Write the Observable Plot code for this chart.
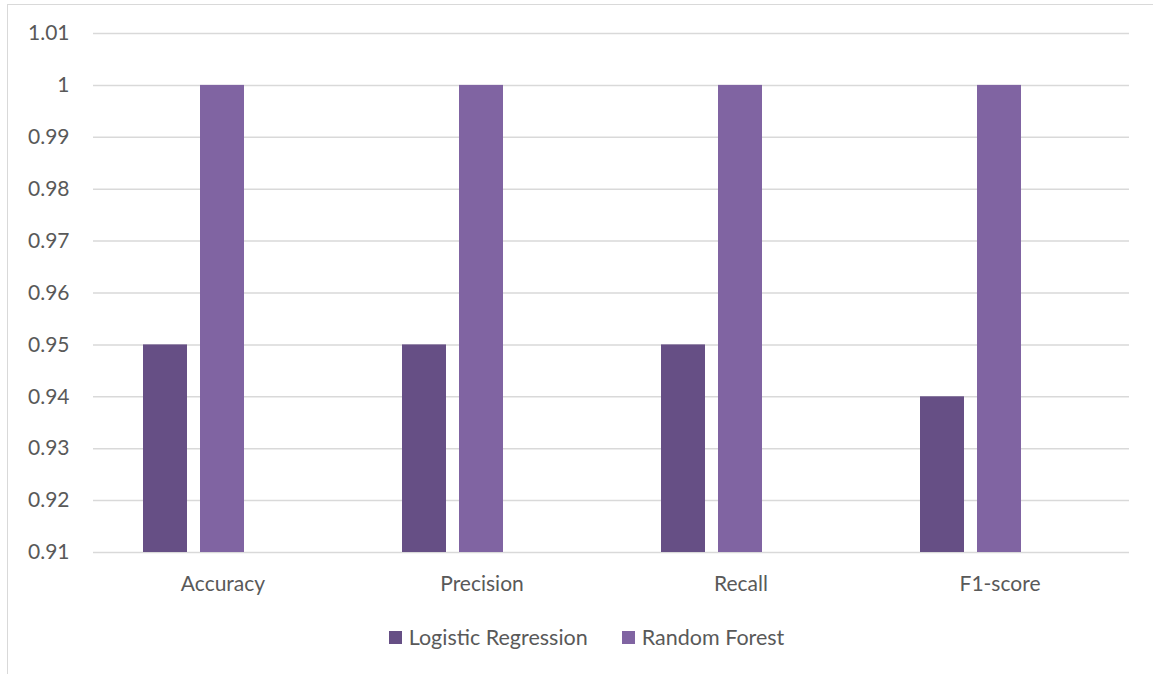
<!DOCTYPE html>
<html><head><meta charset="utf-8">
<script src="https://cdn.jsdelivr.net/npm/d3@7"></script>
<script src="https://cdn.jsdelivr.net/npm/@observablehq/plot@0.6"></script>
<style>
html,body{margin:0;padding:0;background:#fff;width:1153px;height:674px;overflow:hidden;font-family:Lato,"Open Sans",sans-serif;}
#frame{position:absolute;left:7px;top:4px;width:1300px;height:800px;border:1px solid #d9d9d9;box-sizing:border-box;}
#chart{position:absolute;left:0;top:0;}
#legend{position:absolute;left:0;width:1173px;top:624px;display:flex;justify-content:center;gap:34px;font-size:21.5px;color:#595959;line-height:26px;}
#legend .item{display:flex;align-items:center;gap:7px;}
#legend .sw{width:13px;height:13px;display:inline-block;}
</style></head>
<body>
<div id="frame"></div>
<div id="chart"></div>
<div id="legend"></div>
<script>
const categories = ["Accuracy", "Precision", "Recall", "F1-score"];
const series = ["Logistic Regression", "Random Forest"];
const logisticRegression = [0.95, 0.95, 0.95, 0.94];
const randomForest = [1.00, 1.00, 1.00, 1.00];
const yTicks = [0.91, 0.92, 0.93, 0.94, 0.95, 0.96, 0.97, 0.98, 0.99, 1.00, 1.01];
const yTickLabels = ["0.91", "0.92", "0.93", "0.94", "0.95", "0.96", "0.97", "0.98", "0.99", "1", "1.01"];
const colors = ["#664f85", "#8064a2"];

const rows = [];
categories.forEach((c, i) => {
  rows.push({category: c, series: series[0], value: logisticRegression[i]});
  rows.push({category: c, series: series[1], value: randomForest[i]});
});
const slotDomain = [...series, "(empty)"];

const chart = Plot.plot({
  width: 1153,
  height: 600,
  marginTop: 33,
  marginBottom: 48,
  marginLeft: 92,
  marginRight: 23,
  style: {fontFamily: "Lato, 'Open Sans', sans-serif", fontSize: "21px", color: "#595959", background: "transparent"},
  fx: {domain: categories, padding: 0, label: null, axis: "bottom", tickSize: 0, tickPadding: 24},
  x: {domain: slotDomain, paddingInner: 0.224, paddingOuter: 0.848, axis: null},
  y: {domain: [0.91, 1.01], ticks: yTicks, tickFormat: d => yTickLabels[yTicks.findIndex(t => Math.abs(t - d) < 1e-9)], tickSize: 0, tickPadding: 24, label: null},
  color: {domain: series, range: colors},
  marks: [
    Plot.gridY(yTicks, {stroke: "#d9d9d9", strokeOpacity: 1, strokeWidth: 1.5}),
    Plot.barY(rows, {fx: "category", x: "series", y1: 0.91, y2: "value", fill: "series"})
  ]
});
document.getElementById("chart").appendChild(chart);

const legend = document.getElementById("legend");
series.forEach((s, i) => {
  const item = document.createElement("div");
  item.className = "item";
  const sw = document.createElement("span");
  sw.className = "sw";
  sw.style.background = colors[i];
  const t = document.createElement("span");
  t.textContent = s;
  item.appendChild(sw); item.appendChild(t);
  legend.appendChild(item);
});
</script>
</body></html>
